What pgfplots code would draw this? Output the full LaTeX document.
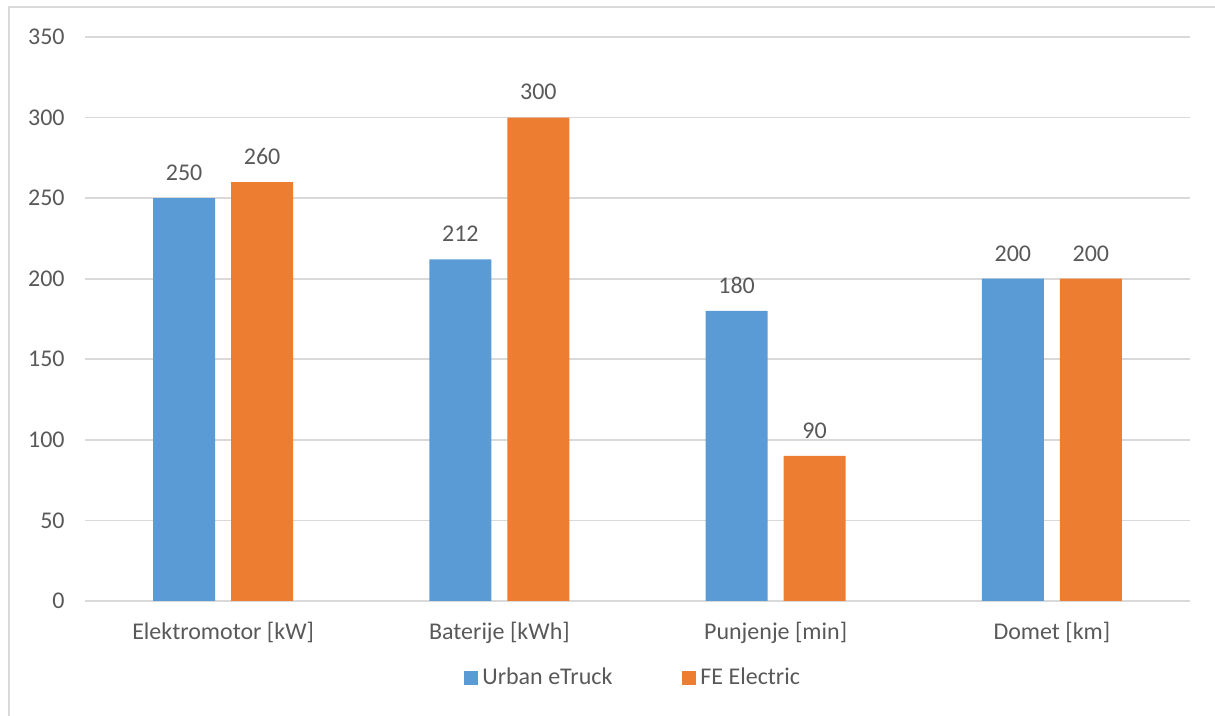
\documentclass[border=0pt]{standalone}
\usepackage{pgfplots}
\pgfplotsset{compat=1.18}
\usepackage{fontspec}
\setmainfont{Carlito}
\definecolor{ublue}{HTML}{5B9BD5}
\definecolor{fOrange}{HTML}{ED7D31}
\definecolor{gridgray}{HTML}{D9D9D9}
\definecolor{txt}{HTML}{595959}

\begin{document}
{\fontsize{12}{14}\selectfont
\begin{tikzpicture}
% page is 1215x716 px at 0.5pt per px
\useasboundingbox (0,0) rectangle (607.5pt,358pt);
\draw[gridgray, line width=0.8pt] (4.5pt,0) -- (4.5pt,354.5pt) -- (607.5pt,354.5pt);
\begin{axis}[
  at={(42.5pt,57.5pt)}, anchor=south west,
  scale only axis, width=552.5pt, height=282pt,
  ybar=8pt, bar width=31pt,
  xmin=-0.5, xmax=3.5, ymin=0, ymax=350,
  xtick=data,
  xticklabels={Elektromotor [kW], Baterije [kWh], Punjenje [min], Domet [km]},
  ytick={0,50,...,350},
  ymajorgrids, grid style={gridgray, line width=0.8pt},
  axis line style={draw=none},
  axis x line*=bottom, axis y line*=left,
  x axis line style={draw=gridgray, line width=0.8pt},
  major tick length=0pt,
  tick label style={text=txt},
  yticklabel style={xshift=-6pt},
  xticklabel style={yshift=-6.5pt},
  /pgf/number format/assume math mode=true,
  nodes near coords,
  every node near coord/.append style={text=txt, anchor=south, yshift=4.5pt},
  legend columns=2,
  legend style={draw=none, fill=none, text=txt, at={(0.497,-0.137)}, anchor=center,
    /tikz/every even column/.append style={column sep=33pt}},
  legend image code/.code={\fill[#1] (0pt,-3.5pt) rectangle (7pt,3.5pt);},
]
\addplot[fill=ublue, draw=none] coordinates {(0,250) (1,212) (2,180) (3,200)};
\addlegendentry{Urban eTruck}
\addplot[fill=fOrange, draw=none] coordinates {(0,260) (1,300) (2,90) (3,200)};
\addlegendentry{FE Electric}
\end{axis}
\end{tikzpicture}}
\end{document}
